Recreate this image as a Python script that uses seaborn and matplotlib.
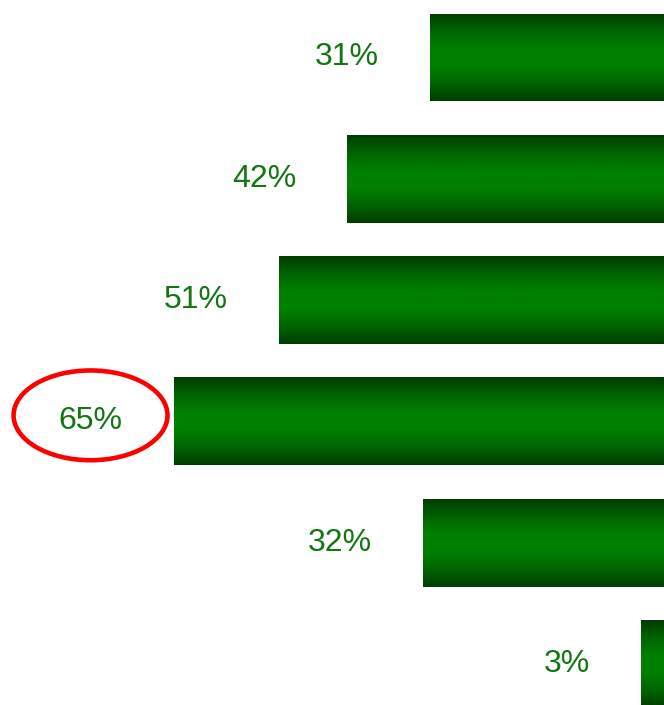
import numpy as np
import pandas as pd
import matplotlib
matplotlib.use("Agg")
import matplotlib.pyplot as plt
import seaborn as sns
from matplotlib.patches import Ellipse
from matplotlib.colors import LinearSegmentedColormap

# Values (percent)
categories = ["A", "B", "C", "D", "E", "F"]
values = [31, 42, 51, 65, 32, 3]
labels = ["31%", "42%", "51%", "65%", "32%", "3%"]
highlight = "D"

sns.set_theme(style="white")
plt.rcParams["font.family"] = ["Liberation Sans", "DejaVu Sans"]

df = pd.DataFrame({"category": categories, "value": values})

fig = plt.figure(figsize=(6.64, 7.05), dpi=100)
ax = fig.add_axes([0, 0, 1, 1])

sns.barplot(data=df, x="value", y="category", orient="h", ax=ax,
            width=0.725, color="#008000", edgecolor="none")

ax.set_xlim(88, 0)
ax.set_ylim(5.338, -0.474)
ax.axis("off")

# green bars shaded dark at top and bottom, bright in the middle
shade = LinearSegmentedColormap.from_list(
    "bar", ["#003c00", "#006400", "#008000", "#008000", "#006400", "#003c00"])
grad = np.linspace(0, 1, 256).reshape(-1, 1)
for bar in ax.patches:
    x0, y0 = bar.get_x(), bar.get_y()
    w, h = bar.get_width(), bar.get_height()
    im = ax.imshow(grad, cmap=shade, aspect="auto", interpolation="bicubic",
                   extent=(x0, x0 + w, y0 + h, y0), zorder=2)
    im.set_clip_path(bar)
    bar.set_facecolor("none")

for i, (v, lab) in enumerate(zip(values, labels)):
    ax.annotate(lab, xy=(v, i), xytext=(-51, 0), textcoords="offset pixels",
                ha="right", va="center", fontsize=23, color="#137513")

# red ring around the highlighted label
hi = categories.index(highlight)
ax.add_patch(Ellipse((values[hi] + 11, hi - 0.05), width=20.4, height=0.74,
                     fill=False, edgecolor="#ff0000", linewidth=3.3, zorder=3))

fig.savefig("out.png", dpi=100)
